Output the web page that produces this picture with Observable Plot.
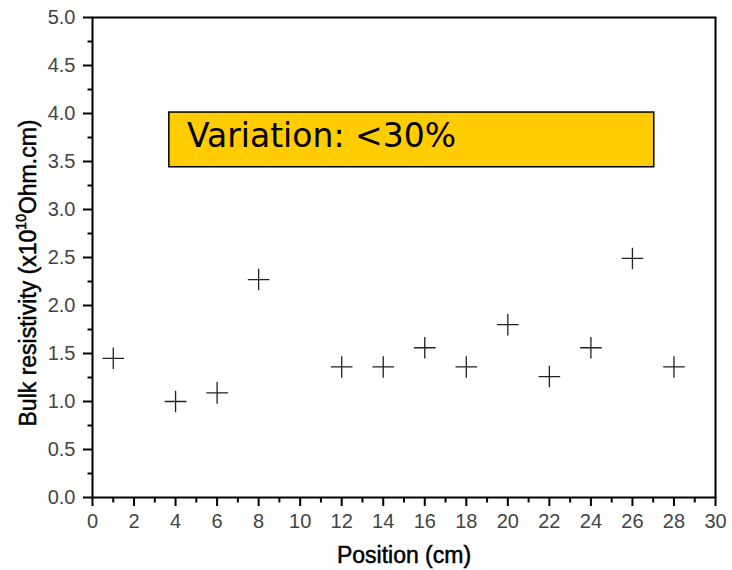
<!DOCTYPE html>
<html><head><meta charset="utf-8">
<script src="https://cdn.jsdelivr.net/npm/d3@7"></script>
<script src="https://cdn.jsdelivr.net/npm/@observablehq/plot@0.6"></script>
<style>body{margin:0;background:#fff}</style>
</head><body><div id="chart"></div>
<script>
// ---- data ----
const positions   = [1, 4, 6, 8, 12, 14, 16, 18, 20, 22, 24, 26, 28];
const resistivity = [1.45, 1.00, 1.09, 2.27, 1.36, 1.36, 1.56, 1.36, 1.80, 1.26, 1.56, 2.49, 1.36];
const xTicks = [0, 2, 4, 6, 8, 10, 12, 14, 16, 18, 20, 22, 24, 26, 28, 30];
const xMinor = [1, 3, 5, 7, 9, 11, 13, 15, 17, 19, 21, 23, 25, 27, 29];
const yTicks = [0, 0.5, 1, 1.5, 2, 2.5, 3, 3.5, 4, 4.5, 5];
const yMinor = [0.25, 0.75, 1.25, 1.75, 2.25, 2.75, 3.25, 3.75, 4.25, 4.75];
const noteBox = [{x1: 3.7, x2: 27.05, y1: 3.44, y2: 4.01}];
const noteLabel = [{text: "Variation: <30%", x: 4.55, y: 3.76}];
const xTitle = "Position (cm)";
const yTitleParts = ["Bulk resistivity (x10", "10", "Ohm.cm)"];

const points = positions.map((p, i) => ({position: p, value: resistivity[i]}));
const tickFont = "'Liberation Sans Narrow','Arial Narrow','Liberation Sans',Arial,sans-serif";

// custom tick symbols (drawn outward from the frame edge)
const tickDown = {draw(ctx) { ctx.moveTo(0, 0); ctx.lineTo(0, 5); }};
const tickLeft = {draw(ctx) { ctx.moveTo(0, 0); ctx.lineTo(-5, 0); }};

const chart = Plot.plot({
  width: 732, height: 570,
  marginLeft: 92, marginRight: 17, marginTop: 17, marginBottom: 73,
  style: {fontFamily: tickFont, fontSize: "20px", background: "#fff", color: "#000", overflow: "visible"},
  x: {domain: [0, 30], ticks: xTicks, tickSize: 9, tickPadding: 7, label: null},
  y: {domain: [0, 5], ticks: yTicks, tickSize: 9, tickPadding: 8, tickFormat: d3.format(".1f"), label: null},
  marks: [
    Plot.rect(noteBox, {x1: "x1", x2: "x2", y1: "y1", y2: "y2", fill: "#FFCC00", stroke: "#000", strokeWidth: 1.5}),
    Plot.text(noteLabel, {x: "x", y: "y", text: "text", textAnchor: "start", lineAnchor: "middle",
      fontSize: 33, fontFamily: "'DejaVu Sans',sans-serif", fill: "#000"}),
    Plot.dot(xMinor, {x: d => d, frameAnchor: "bottom", symbol: tickDown, stroke: "#000", strokeWidth: 2}),
    Plot.dot(yMinor, {y: d => d, frameAnchor: "left", symbol: tickLeft, stroke: "#000", strokeWidth: 2}),
    Plot.frame({stroke: "#000", strokeWidth: 2}),
    Plot.dot(points, {x: "position", y: "value", symbol: "plus", r: 7, stroke: "#222", strokeWidth: 1.3})
  ]
});

const svg = d3.select(chart);
// style the built-in axes: black 2px tick lines, grey labels
svg.selectAll("g[aria-label*='axis'] line, g[aria-label*='axis'] path").attr("stroke", "#000").attr("stroke-width", 2);
svg.selectAll("g[aria-label*='axis'] text").attr("fill", "#444").style("font-size", "20px");

svg.append("text")
  .attr("x", 404).attr("y", 555).attr("dy", "0.35em")
  .attr("text-anchor", "middle")
  .attr("font-family", "'Liberation Sans',Arial,sans-serif")
  .attr("font-size", 23).attr("fill", "#000").attr("stroke", "#000").attr("stroke-width", 0.5)
  .text(xTitle);

const yt = svg.append("text")
  .attr("transform", "translate(28,273) rotate(-90)")
  .attr("dy", "0.35em")
  .attr("text-anchor", "middle")
  .attr("font-family", "'Liberation Sans',Arial,sans-serif")
  .attr("font-size", 23).attr("fill", "#000").attr("stroke", "#000").attr("stroke-width", 0.5);
yt.append("tspan").text(yTitleParts[0]);
yt.append("tspan").attr("font-size", 14).attr("dy", "-0.75em").text(yTitleParts[1]);
yt.append("tspan").attr("dy", "0.45em").text(yTitleParts[2]);

document.getElementById("chart").appendChild(chart);
</script>
</body></html>
